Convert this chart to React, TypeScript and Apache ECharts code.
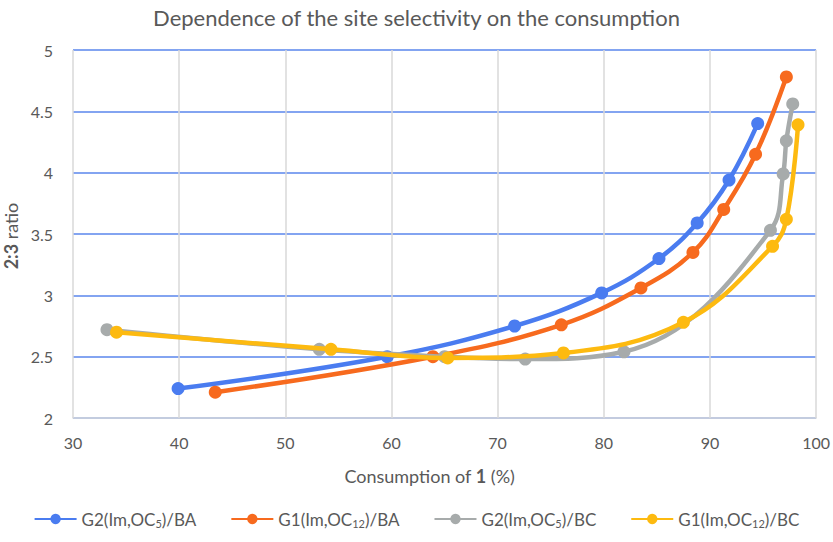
import React, { useEffect, useRef } from "react";
import * as echarts from "echarts";

const seriesNames = ["G2(Im,OC5)/BA", "G1(Im,OC12)/BA", "G2(Im,OC5)/BC", "G1(Im,OC12)/BC"];
const legendLabels = [
  "G2(Im,OC{sub|5})/BA",
  "G1(Im,OC{sub|12})/BA",
  "G2(Im,OC{sub|5})/BC",
  "G1(Im,OC{sub|12})/BC",
];
const colors = ["#4A7CF0", "#F76A1E", "#A7ABAB", "#FDBA10"];

const g2BA: [number, number][] = [
  [39.9, 2.24], [59.6, 2.5], [71.6, 2.75], [79.8, 3.02], [85.2, 3.3], [88.8, 3.59], [91.8, 3.94], [94.5, 4.4],
];
const g1BA: [number, number][] = [
  [43.4, 2.21], [63.9, 2.5], [76.0, 2.76], [83.5, 3.06], [88.4, 3.35], [91.3, 3.7], [94.3, 4.15], [97.2, 4.78],
];
const g2BC: [number, number][] = [
  [33.2, 2.72], [53.2, 2.56], [65.0, 2.5], [72.6, 2.48], [81.9, 2.54], [95.7, 3.53], [96.9, 3.99], [97.2, 4.26], [97.8, 4.56],
];
const g1BC: [number, number][] = [
  [34.1, 2.7], [54.3, 2.56], [65.3, 2.49], [76.2, 2.53], [87.5, 2.78], [95.9, 3.4], [97.2, 3.62], [98.3, 4.39],
];
const allData = [g2BA, g1BA, g2BC, g1BC];

const xTicks = [30, 40, 50, 60, 70, 80, 90, 100];
const yTicks = [2, 2.5, 3, 3.5, 4, 4.5, 5];

const yNameBold = "2:3";
const yNameRest = " ratio";

const FONT = "Lato, 'Open Sans', sans-serif";
const TEXT = "#595959";

function measure(text: string, font: string): number {
  const c = document.createElement("canvas").getContext("2d");
  if (!c) return text.length * 8;
  c.font = font;
  return c.measureText(text).width;
}

export default function App() {
  const ref = useRef<HTMLDivElement>(null);
  useEffect(() => {
    if (!ref.current) return;
    const chart = echarts.init(ref.current, undefined, { renderer: "svg" });
    const wBold = measure(yNameBold, `bold 18px ${FONT}`);
    const wRest = measure(yNameRest, `18px ${FONT}`);
    const total = wBold + wRest;
    chart.setOption({
      animation: false,
      textStyle: { fontFamily: FONT },
      title: {
        text: "Dependence of the site selectivity on the consumption",
        left: "center",
        top: 1,
        textStyle: { fontFamily: FONT, fontSize: 22, fontWeight: "normal", color: TEXT },
      },
      legend: {
        bottom: 8,
        left: "center",
        itemWidth: 42,
        itemHeight: 13,
        itemGap: 34,
        data: seriesNames,
        formatter: (name: string) => legendLabels[seriesNames.indexOf(name)],
        textStyle: {
          fontFamily: FONT,
          fontSize: 17,
          color: TEXT,
          lineHeight: 20,
          rich: {
            sub: { fontFamily: FONT, fontSize: 11, color: TEXT, verticalAlign: "bottom", lineHeight: 14 },
          },
        },
      },
      grid: { left: 73, right: 15, top: 50, bottom: 124, containLabel: false },
      xAxis: {
        type: "value",
        min: xTicks[0],
        max: xTicks[xTicks.length - 1],
        interval: 10,
        name: "Consumption of {b|1} (%)",
        nameLocation: "middle",
        nameGap: 49,
        nameTextStyle: {
          fontFamily: FONT,
          fontSize: 18,
          color: TEXT,
          padding: [0, 30, 0, 0],
          rich: { b: { fontFamily: FONT, fontSize: 18, fontWeight: "bold", color: TEXT } },
        },
        axisLine: { show: true, lineStyle: { color: "#D9D9D9", width: 1.5 } },
        axisTick: { show: false },
        axisLabel: { fontFamily: FONT, fontSize: 16, color: TEXT, margin: 16 },
        splitLine: { show: true, lineStyle: { color: "#D9D9D9", width: 1.5 } },
      },
      yAxis: {
        type: "value",
        min: yTicks[0],
        max: yTicks[yTicks.length - 1],
        interval: 0.5,
        axisLine: { show: false },
        axisTick: { show: false },
        axisLabel: { fontFamily: FONT, fontSize: 16, color: TEXT, margin: 20 },
        splitLine: { show: true, lineStyle: { color: "#5A86EC", width: 1.5 } },
      },
      graphic: [
        {
          type: "group",
          x: 11,
          y: 236,
          rotation: Math.PI / 2,
          children: [
            {
              type: "text",
              x: -total / 2,
              y: 0,
              style: {
                text: yNameBold,
                font: `bold 18px ${FONT}`,
                fill: TEXT,
                align: "left",
                verticalAlign: "middle",
              },
            },
            {
              type: "text",
              x: -total / 2 + wBold,
              y: 0,
              style: {
                text: yNameRest,
                font: `18px ${FONT}`,
                fill: TEXT,
                align: "left",
                verticalAlign: "middle",
              },
            },
          ],
        },
      ],
      series: allData.map((d, i) => ({
        name: seriesNames[i],
        type: "line",
        data: d,
        smooth: 0.4,
        symbol: "circle",
        symbolSize: 13,
        showSymbol: true,
        lineStyle: { width: 4.5, color: colors[i] },
        itemStyle: { color: colors[i] },
        z: 2 + i,
      })),
    });
    return () => chart.dispose();
  }, []);
  return <div ref={ref} style={{ width: 833, height: 542, position: "absolute", left: 0, top: 0 }} />;
}
